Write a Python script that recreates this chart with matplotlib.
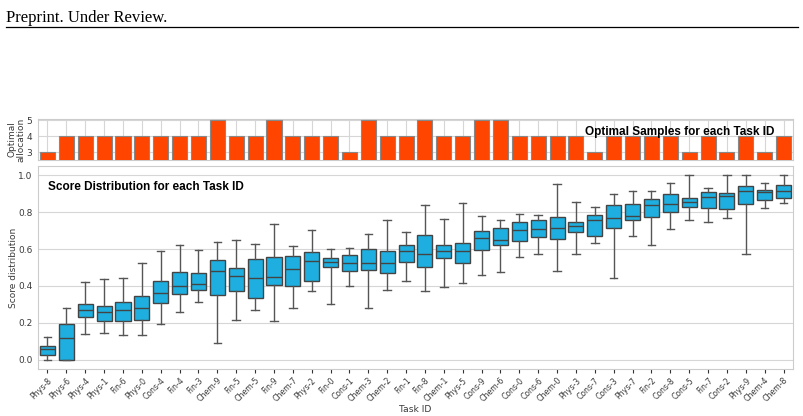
import matplotlib
matplotlib.use("Agg")
import matplotlib.pyplot as plt
import numpy as np

tasks = ["Phys-8", "Phys-6", "Phys-4", "Phys-1", "Fin-6", "Phys-0", "Cons-4", "Fin-4", "Fin-3", "Chem-9",
         "Fin-5", "Chem-5", "Fin-9", "Chem-7", "Phys-2", "Fin-0", "Cons-1", "Chem-3", "Chem-2", "Fin-1",
         "Fin-8", "Chem-1", "Phys-5", "Cons-9", "Chem-6", "Cons-0", "Cons-6", "Chem-0", "Phys-3", "Cons-7",
         "Cons-3", "Phys-7", "Fin-2", "Cons-8", "Cons-5", "Fin-7", "Cons-2", "Phys-9", "Chem-4", "Chem-8"]

allocation = [3, 4, 4, 4, 4, 4, 4, 4, 4, 5,
              4, 4, 5, 4, 4, 4, 3, 5, 4, 4,
              5, 4, 4, 5, 5, 4, 4, 4, 4, 3,
              4, 4, 4, 4, 3, 4, 3, 4, 3, 4]

whislo = [0.0, 0.0, 0.139, 0.144, 0.135, 0.135, 0.196, 0.258, 0.312, 0.092,
          0.216, 0.268, 0.211, 0.279, 0.375, 0.301, 0.400, 0.283, 0.380, 0.425,
          0.371, 0.395, 0.416, 0.458, 0.476, 0.559, 0.573, 0.481, 0.573, 0.631,
          0.443, 0.670, 0.623, 0.708, 0.760, 0.746, 0.768, 0.571, 0.820, 0.847]
q1 = [0.025, 0.0, 0.232, 0.209, 0.209, 0.214, 0.305, 0.355, 0.377, 0.353,
      0.371, 0.337, 0.405, 0.398, 0.427, 0.505, 0.483, 0.488, 0.468, 0.530,
      0.505, 0.551, 0.523, 0.596, 0.622, 0.645, 0.667, 0.652, 0.694, 0.670,
      0.715, 0.757, 0.771, 0.800, 0.829, 0.820, 0.818, 0.842, 0.865, 0.879]
med = [0.061, 0.119, 0.268, 0.259, 0.270, 0.283, 0.360, 0.400, 0.411, 0.479,
       0.454, 0.445, 0.449, 0.490, 0.535, 0.530, 0.526, 0.524, 0.523, 0.587,
       0.571, 0.589, 0.587, 0.661, 0.649, 0.701, 0.708, 0.715, 0.724, 0.755,
       0.769, 0.778, 0.838, 0.843, 0.854, 0.881, 0.886, 0.915, 0.910, 0.917]
q3 = [0.074, 0.195, 0.303, 0.294, 0.315, 0.346, 0.429, 0.477, 0.470, 0.541,
      0.495, 0.546, 0.559, 0.560, 0.584, 0.551, 0.569, 0.600, 0.589, 0.623,
      0.674, 0.620, 0.634, 0.697, 0.712, 0.746, 0.755, 0.773, 0.746, 0.787,
      0.838, 0.843, 0.869, 0.899, 0.879, 0.908, 0.901, 0.939, 0.921, 0.946]
whishi = [0.123, 0.281, 0.420, 0.438, 0.445, 0.523, 0.591, 0.623, 0.595, 0.636,
          0.647, 0.625, 0.735, 0.616, 0.703, 0.602, 0.604, 0.679, 0.755, 0.690,
          0.836, 0.762, 0.847, 0.777, 0.757, 0.789, 0.787, 0.951, 0.856, 0.827,
          0.897, 0.914, 0.917, 0.957, 1.0, 0.928, 1.0, 1.0, 0.960, 1.0]

BOX_COLOR = "#1EAFE0"
BAR_COLOR = "#FF4500"
EDGE = "#444444"
GRID = "#d6d6d6"
TXT = "#3a3a3a"

fig = plt.figure(figsize=(8.04, 4.16), dpi=100)

# page header
fig.text(0.008, 0.956, "Preprint. Under Review.", family="Liberation Serif", fontsize=12,
         ha="left", va="center", color="black")
fig.add_artist(plt.Line2D([0.008, 0.992], [0.936, 0.936], transform=fig.transFigure,
                          color="black", lw=0.9))

x = np.arange(len(tasks))

# top axes: optimal allocation
ax1 = fig.add_axes([0.0473, 0.6154, 0.939, 0.0986])
ax1.bar(x, allocation, width=0.8, color=BAR_COLOR, edgecolor="#888888", linewidth=0.8, zorder=3)
ax1.set_ylim(2.53, 5.07)
ax1.set_xlim(-0.5, len(tasks) - 0.5)
ax1.set_yticks([3, 4, 5])
ax1.set_xticks(x)
ax1.set_xticklabels([])
ax1.tick_params(axis="x", length=0)
ax1.tick_params(axis="y", length=0, labelsize=6.5, pad=4, labelcolor=TXT)
ax1.grid(True, color=GRID, lw=0.8, zorder=0)
ax1.set_axisbelow(True)
for s in ax1.spines.values():
    s.set_color("#cccccc")
ax1.set_ylabel("Optimal\nallocation", fontsize=6.5, color=TXT, linespacing=0.95)
ax1.yaxis.set_label_coords(-0.017, 0.5)
ax1.text(0.975, 0.68, "Optimal Samples for each Task ID", transform=ax1.transAxes,
         ha="right", va="center", fontsize=8.5, fontweight="bold", family="Liberation Sans")

# main axes: score distribution
ax2 = fig.add_axes([0.0473, 0.113, 0.939, 0.488])
stats = []
for i in range(len(tasks)):
    stats.append(dict(whislo=whislo[i], q1=q1[i], med=med[i], q3=q3[i], whishi=whishi[i],
                      fliers=[], label=tasks[i]))
ax2.bxp(stats, positions=x, widths=0.8, showfliers=False, patch_artist=True,
        capwidths=0.4,
        boxprops=dict(facecolor=BOX_COLOR, edgecolor=EDGE, linewidth=1.0),
        medianprops=dict(color=EDGE, linewidth=1.0),
        whiskerprops=dict(color="#555555", linewidth=1.0),
        capprops=dict(color="#555555", linewidth=1.0))
ax2.set_ylim(-0.05, 1.05)
ax2.set_xlim(-0.5, len(tasks) - 0.5)
ax2.set_yticks([0.0, 0.2, 0.4, 0.6, 0.8, 1.0])
ax2.set_yticklabels(["0.0", "0.2", "0.4", "0.6", "0.8", "1.0"])
ax2.set_xticks(x)
ax2.set_xticklabels(tasks, rotation=45, ha="right", rotation_mode="anchor")
ax2.tick_params(axis="x", length=3, width=0.8, color="#333333", labelsize=5.6, pad=2,
                labelcolor=TXT)
ax2.tick_params(axis="y", length=0, labelsize=6.5, pad=4, labelcolor=TXT)
ax2.yaxis.grid(True, color=GRID, lw=0.8, zorder=0)
ax2.set_axisbelow(True)
for s in ax2.spines.values():
    s.set_color("#cccccc")
ax2.set_ylabel("Score distribution", fontsize=6.5, color=TXT)
ax2.yaxis.set_label_coords(-0.026, 0.5)
ax2.set_xlabel("Task ID", fontsize=6.6, color=TXT)
ax2.xaxis.set_label_coords(0.5, -0.175)
ax2.text(0.013, 0.895, "Score Distribution for each Task ID", transform=ax2.transAxes,
         ha="left", va="center", fontsize=8.5, fontweight="bold", family="Liberation Sans")

fig.savefig("out.png", dpi=100)
